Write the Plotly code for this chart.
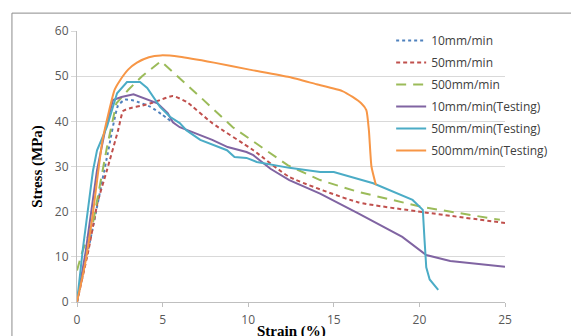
import plotly.graph_objects as go

# ---- data ----
x_10 = [0, 0.9, 1.8, 2.4, 2.8, 3.3, 4.3, 5.0, 5.5]
y_10 = [0, 16, 33, 43.5, 44.8, 44.6, 43.2, 41.4, 40]

x_50 = [0, 0.7, 1.2, 1.75, 2.4, 2.7, 3.2, 3.7, 4.3, 4.85, 5.6, 6.4, 7.9, 10.3, 12.4, 16.4, 20.2, 25]
y_50 = [0, 12, 22, 29.2, 38, 42.3, 43, 43.4, 44, 44.7, 45.6, 44.3, 39.6, 33.6, 27.7, 22.1, 19.9, 17.5]

x_500 = [0, 0.3, 0.93, 1.75, 2.3, 3.0, 3.8, 4.9, 5.6, 6.8, 7.2, 9.1, 12.3, 14.2, 16.4, 20.2, 24.7]
y_500 = [7, 11, 17.5, 34.3, 44, 47, 50, 53.3, 50.9, 46.9, 45.4, 38.7, 30.3, 27, 24.4, 21, 18.2]

x_10t = [0, 0.5, 1.17, 1.64, 2.1, 2.6, 3.3, 3.9, 4.7, 5.3, 5.6, 6.0, 7.2, 7.9, 8.8, 9.9, 10.3,
         11.3, 12.4, 14.2, 16.4, 19.0, 20.4, 21.8, 25]
y_10t = [0, 11, 29.2, 38, 44.7, 45.4, 46, 45.1, 44, 41.8, 39.8, 38.7, 37, 35.9, 34.3, 33.2, 32.5,
         29.5, 27, 24, 19.7, 14.4, 10.4, 9.1, 7.8]

x_50t = [0, 0.35, 0.93, 1.17, 1.75, 2.34, 2.92, 3.68, 4.1, 4.85, 5.43, 6.0, 6.4, 7.0, 7.2, 8.76,
         9.2, 9.9, 10.5, 12.4, 14.2, 15.0, 17.3, 19.6, 20.2, 20.3, 20.4, 20.6, 21.1]
y_50t = [0, 12, 29, 33.6, 38.8, 46.2, 48.7, 48.7, 47.4, 43.2, 41, 39.6, 38, 36.3, 35.9, 33.6,
         32.1, 31.9, 31, 29.7, 28.8, 28.8, 26.3, 22.6, 20.4, 13.7, 7.7, 5, 2.7]

x_500t = [0, 0.5, 0.93, 1.5, 2.2, 2.5, 3.0, 3.5, 4.2, 4.9, 6, 8, 10, 12.4, 14, 15.5, 16.1, 16.6,
          16.9, 17.05, 17.2, 17.46]
y_500t = [0, 9, 19.7, 36, 47, 49, 51.5, 53, 54.2, 54.6, 54.3, 53, 51.5, 49.8, 48.2, 46.7, 45.4,
          44, 42.5, 38, 30, 25.9]

x_ticks = [0, 5, 10, 15, 20, 25]
y_ticks = [0, 10, 20, 30, 40, 50, 60]

series = [
    ("10mm/min", x_10, y_10, "#4F81BD", "dot", "spline"),
    ("50mm/min", x_50, y_50, "#C0504D", "4px,3px", "spline"),
    ("500mm/min", x_500, y_500, "#9BBB59", "10px,7px", "linear"),
    ("10mm/min(Testing)", x_10t, y_10t, "#8064A2", "solid", "linear"),
    ("50mm/min(Testing)", x_50t, y_50t, "#4BACC6", "solid", "linear"),
    ("500mm/min(Testing)", x_500t, y_500t, "#F79646", "solid", "spline"),
]

fig = go.Figure()
for i, (name, xs, ys, col, dash, shape) in enumerate(series):
    line = dict(color=col, width=2, dash=dash, shape=shape)
    if shape == "spline":
        line["smoothing"] = 0.5
    fig.add_trace(go.Scatter(x=xs, y=ys, mode="lines", name=name, legendgroup=str(i), line=line))

tickfont = dict(family="Open Sans", size=12, color="#595959")
fig.update_layout(
    width=579, height=336,
    margin=dict(l=69, r=82, t=23, b=42, autoexpand=False),
    paper_bgcolor="white", plot_bgcolor="white",
    showlegend=True,
    legend=dict(x=0.734, y=1.018, xanchor="left", yanchor="top", bgcolor="rgba(0,0,0,0)",
                font=dict(family="Open Sans", size=12, color="#404040"),
                tracegroupgap=3, traceorder="grouped"),
    xaxis=dict(range=[0, 25], tickvals=x_ticks, showgrid=False, zeroline=False, automargin=False,
               showline=True, linecolor="#BFBFBF", linewidth=1,
               ticks="outside", ticklen=4, tickcolor="#BFBFBF", tickfont=tickfont,
               ticklabelstandoff=3),
    yaxis=dict(range=[0, 60], tickvals=y_ticks, showgrid=True, gridcolor="#D9D9D9", automargin=False,
               zeroline=False, showline=True, linecolor="#BFBFBF", linewidth=1,
               ticks="outside", ticklen=5, tickcolor="#D9D9D9", tickfont=tickfont,
               title=dict(text="<b>Stress (MPa)</b>", standoff=8,
                          font=dict(family="Liberation Serif", size=15, color="black"))),
    annotations=[dict(text="<b>Strain (%)</b>", xref="paper", yref="paper", x=0.5, y=-0.108,
                      xanchor="center", yanchor="middle", showarrow=False,
                      font=dict(family="Liberation Serif", size=15, color="black"))],
    shapes=[dict(type="rect", xref="paper", yref="paper", x0=-0.152, x1=1.19,
                 y0=-0.17, y1=1.066, line=dict(color="#8C8C8C", width=1), layer="above")],
)

fig.write_html("out.html")
